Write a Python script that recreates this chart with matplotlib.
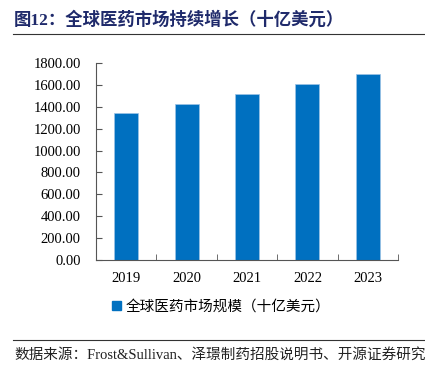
import matplotlib
matplotlib.use("Agg")
import matplotlib.pyplot as plt
from matplotlib.lines import Line2D

years = ["2019", "2020", "2021", "2022", "2023"]
market = [1345, 1425, 1515, 1605, 1700]
yticks = [0, 200, 400, 600, 800, 1000, 1200, 1400, 1600, 1800]
title = "图12：全球医药市场持续增长（十亿美元）"
legend_label = "全球医药市场规模（十亿美元）"
source = "数据来源：Frost&Sullivan、泽璟制药招股说明书、开源证券研究"

cjk = ["Noto Sans CJK SC", "DejaVu Sans"]
serif = ["Liberation Serif", "DejaVu Serif"]
mixed = ["Liberation Serif", "Noto Sans CJK SC", "DejaVu Sans"]

fig = plt.figure(figsize=(4.25, 3.71), dpi=100)
W, H = 425, 371
ax = fig.add_axes([96 / W, 1 - 260 / H, (398 - 96) / W, (260 - 63) / H])

x = list(range(len(years)))
ax.bar(x, market, width=0.4, color="#0070C0", edgecolor="#9DC3E6", linewidth=0.5, zorder=2)
ax.set_xlim(-0.5, len(years) - 0.5)
ax.set_ylim(0, 1800)
ax.set_yticks(yticks)
ax.set_yticklabels([f"{v:.2f}" for v in yticks], fontfamily=serif, fontsize=10.5)
ax.set_xticks(x)
ax.set_xticklabels(years, fontfamily=serif, fontsize=10.5)
ax.set_xticks([i + 0.5 for i in x[:-1]] + [len(years) - 0.5], minor=True)
ax.tick_params(axis="x", which="major", length=0, pad=9)
ax.tick_params(axis="x", which="minor", length=4, direction="in", color="#555555")
ax.tick_params(axis="y", length=4, direction="in", color="#555555", pad=11)
for s in ["top", "right"]:
    ax.spines[s].set_visible(False)
for s in ["left", "bottom"]:
    ax.spines[s].set_color("#555555")
    ax.spines[s].set_linewidth(0.8)

# title
fig.text(14 / W, 1 - 20 / H, title, fontfamily=mixed, fontsize=12.5, fontweight="bold",
         color="#1F2A6B", va="center", ha="left")
fig.add_artist(Line2D([13 / W, 1.0], [1 - 34 / H, 1 - 34 / H], color="#333333", lw=0.8))

# legend
handle = plt.Rectangle((0, 0), 1, 1, color="#0070C0")
fig.legend([handle], [legend_label], loc="center", bbox_to_anchor=(0.52, 1 - 307 / H),
           frameon=False, prop={"family": cjk, "size": 10.5}, handlelength=0.6, handleheight=0.6,
           handletextpad=0.3)

# footer
fig.add_artist(Line2D([13 / W, 1.0], [1 - 340 / H, 1 - 340 / H], color="#333333", lw=0.8))
fig.text(14 / W, 1 - 355 / H, source, fontfamily=mixed, fontsize=10.5, color="#222222",
         va="center", ha="left")

fig.savefig("out.png", dpi=100)
